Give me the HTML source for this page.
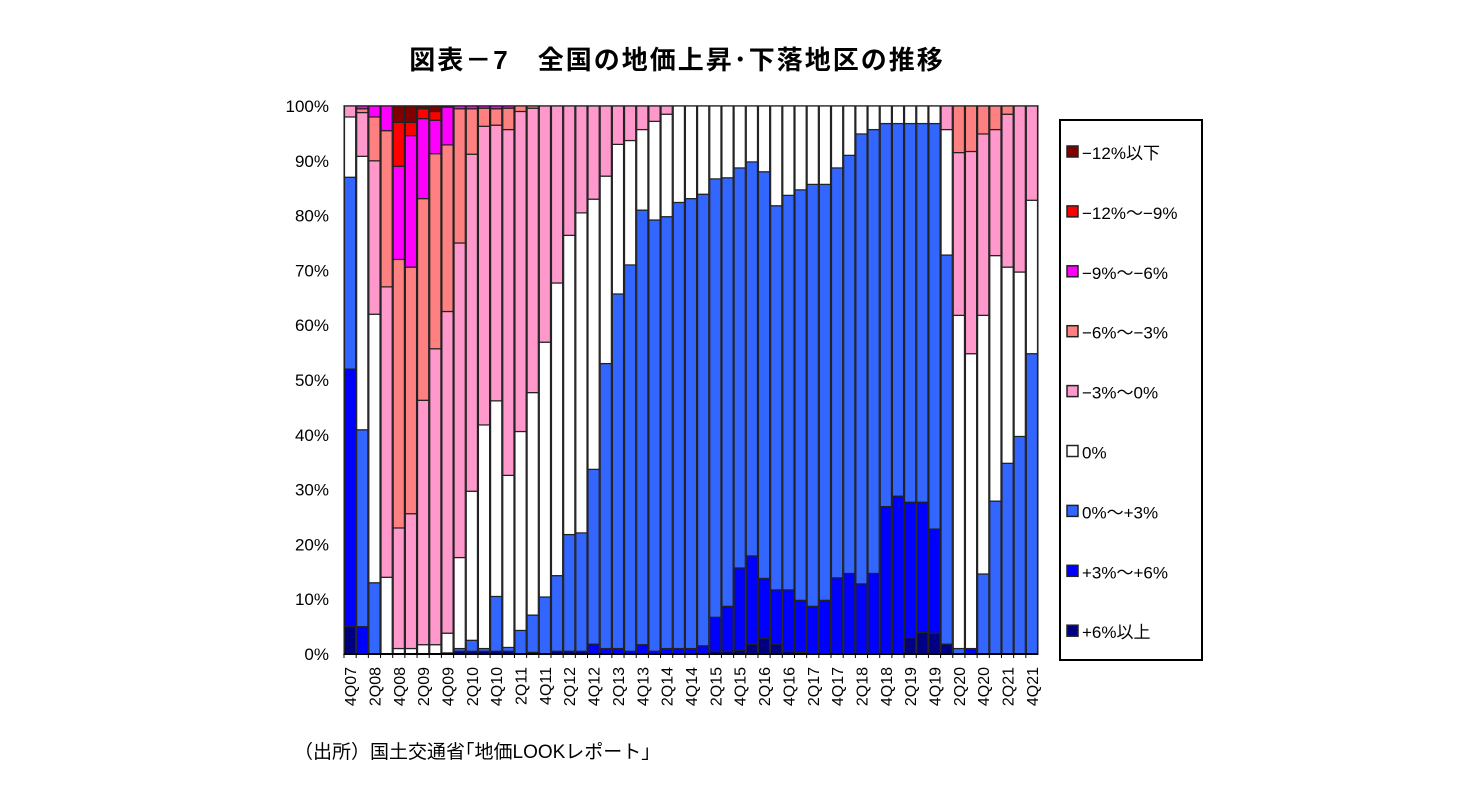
<!DOCTYPE html>
<html><head><meta charset="utf-8"><style>
body{margin:0;background:#fff;width:1480px;height:803px;overflow:hidden;font-family:"Liberation Sans","Noto Sans CJK JP",sans-serif;}
svg{display:block}
</style></head><body>
<svg id="chart" width="1480" height="803" xmlns="http://www.w3.org/2000/svg">
<text x="677" y="69" text-anchor="middle" font-size="26" font-weight="bold" letter-spacing="2" font-family="Liberation Sans, Noto Sans CJK JP, sans-serif">図表－7　全国の地価上昇･下落地区の推移</text>
<g id="plot"></g>
<g id="legend"></g>
<text x="294" y="758" font-size="19" font-family="Liberation Sans, Noto Sans CJK JP, sans-serif">（出所）国土交通省｢地価LOOKレポート｣</text>
</svg>
<script>
const quarters = ["4Q07","1Q08","2Q08","3Q08","4Q08","1Q09","2Q09","3Q09","4Q09","1Q10","2Q10","3Q10","4Q10","1Q11","2Q11","3Q11","4Q11","1Q12","2Q12","3Q12","4Q12","1Q13","2Q13","3Q13","4Q13","1Q14","2Q14","3Q14","4Q14","1Q15","2Q15","3Q15","4Q15","1Q16","2Q16","3Q16","4Q16","1Q17","2Q17","3Q17","4Q17","1Q18","2Q18","3Q18","4Q18","1Q19","2Q19","3Q19","4Q19","1Q20","2Q20","3Q20","4Q20","1Q21","2Q21","3Q21","4Q21"];
const seriesNames = ["+6%以上","+3%～+6%","0%～+3%","0%","-3%～0%","-6%～-3%","-9%～-6%","-12%～-9%","-12%以下"];
const seriesColors = ["#000080","#0000FF","#3366FF","#FFFFFF","#FF99CC","#FF8080","#FF00FF","#FF0000","#800000"];
const up6 = [5,0,0,0,0,0,0,0,.2,.5,.5,.5,.5,.5,0,.3,0,.5,.5,.5,0,0,0,0,0,0,0,0,0,0,.5,.5,.7,1.8,2.8,1.8,.5,.3,0,0,0,0,0,0,0,0,3,3.9,3.8,1.8,0,0,0,0,0,0,0];
const up3to6 = [47,5,0,0,0,0,0,0,0,0,0,0,0,0,0,0,0,0,0,0,1.8,1,1,.5,1.7,.5,1,1,1,1.5,6.2,8.2,15,16.1,11,9.9,11.2,9.5,8.7,9.8,13.9,14.7,12.8,14.7,26.9,28.8,24.7,23.8,19,0,0,1,0,0,0,0,0];
const up0to3 = [35,36,13,0,0,0,0,0,0,.5,2,.5,10,.7,4.3,6.8,10.4,13.8,21.3,21.6,31.9,52,64.7,70.5,79.3,78.7,78.8,81.4,82.1,82.4,80,78.2,73,71.9,74.2,70.1,72,74.9,77,75.9,74.8,76.3,82.1,81,69.9,68,69.1,69.1,74,71,1,0,14.6,27.9,34.8,39.7,54.8];
const flat = [11,50,49,14,1,1,1.7,1.7,3.6,16.6,27.2,40.8,35.7,31.4,36.3,40.6,46.5,53.4,54.6,58.4,49.3,34.2,27.3,22.7,14.7,18,18.7,17.6,16.9,16.1,13.3,13.1,11.3,10.2,12,18.2,16.3,15.3,14.3,14.3,11.3,9,5.1,4.3,3.2,3.2,3.2,3.2,3.2,22.9,60.8,53.8,47.2,44.8,35.8,30,28];
const dn0to3 = [2,8,28,53,22,24.6,44.6,54,58.7,57.4,61.5,54.5,50.3,63.1,58.4,51.9,43.1,32.3,23.6,19.5,17,12.8,7,6.3,4.3,2.8,1.5,0,0,0,0,0,0,0,0,0,0,0,0,0,0,0,0,0,0,0,0,0,0,4.3,29.7,36.9,33.1,23,27.9,30.3,17.2];
const dn3to6 = [0,.7,8,28.5,49,45,36.8,35.6,30.4,24.5,8.3,3.3,3,3.9,1,.4,0,0,0,0,0,0,0,0,0,0,0,0,0,0,0,0,0,0,0,0,0,0,0,0,0,0,0,0,0,0,0,0,0,0,8.5,8.3,5.1,4.3,1.5,0,0];
const dn6to9 = [0,.5,2,4.5,17,24,14.6,6.1,6.9,.5,.5,.4,.5,.4,0,0,0,0,0,0,0,0,0,0,0,0,0,0,0,0,0,0,0,0,0,0,0,0,0,0,0,0,0,0,0,0,0,0,0,0,0,0,0,0,0,0,0];
const dn9to12 = [0,0,0,0,8,2.4,1.8,1.6,.2,0,0,0,0,0,0,0,0,0,0,0,0,0,0,0,0,0,0,0,0,0,0,0,0,0,0,0,0,0,0,0,0,0,0,0,0,0,0,0,0,0,0,0,0,0,0,0,0];
const dn12 = [0,0,0,0,3,3,.5,1,0,0,0,0,0,0,0,0,0,0,0,0,0,0,0,0,0,0,0,0,0,0,0,0,0,0,0,0,0,0,0,0,0,0,0,0,0,0,0,0,0,0,0,0,0,0,0,0,0];
const yTicks = [0,10,20,30,40,50,60,70,80,90,100];

const NS="http://www.w3.org/2000/svg";
const X0=344,X1=1038,Y0=654,Y1=106;
const slot=(X1-X0)/quarters.length;
const xS=i=>X0+i*slot;
const yS=v=>Y0-(v/100)*(Y0-Y1);
const plot=document.getElementById('plot');
function mk(tag,attrs,parent){const e=document.createElementNS(NS,tag);for(const k in attrs)e.setAttribute(k,attrs[k]);parent.appendChild(e);return e;}
const all=[up6,up3to6,up0to3,flat,dn0to3,dn3to6,dn6to9,dn9to12,dn12];
const frame=mk('rect',{x:X0,y:Y1,width:X1-X0,height:Y0-Y1,fill:'#fff',stroke:'#999','stroke-width':2},plot);


yTicks.forEach(t=>{
  const tx=mk('text',{x:329,y:yS(t)+6,'text-anchor':'end','font-size':17},plot);
  tx.textContent=t+'%';
  
  
});
quarters.forEach((q,i)=>{
  let total=0; all.forEach(s=>total+=s[i]);
  let cum=0;
  all.forEach((s,k)=>{
    const v=s[i]/total*100;
    if(v<=0) return;
    const r=mk('rect',{x:xS(i)+0.5,y:yS(cum+v),width:slot-1,height:yS(cum)-yS(cum+v),fill:seriesColors[k],stroke:'#222','stroke-width':1.2},plot);
    
    
    cum+=v;
  });
  mk('line',{x1:xS(i),x2:xS(i),y1:Y0,y2:Y0+4,stroke:'#000','stroke-width':1},plot);
  if(i%2===0){
    const cx=xS(i)+slot/2+6;
    const tx=mk('text',{x:cx,y:667,'text-anchor':'end','font-size':16,transform:`rotate(-90 ${cx} 667)`},plot);
    tx.textContent=q;
    
    
  }
});
mk('line',{x1:X0,x2:X1,y1:Y0,y2:Y0,stroke:'#000','stroke-width':2},plot);
const lg=document.getElementById('legend');
const box=mk('rect',{x:1060,y:120,width:142,height:540,fill:'#fff',stroke:'#000','stroke-width':2},lg);


for(let k=8;k>=0;k--){
  const idx=8-k;
  const y=152+idx*59.9;
  const sq=mk('rect',{x:1067,y:y-6,width:11,height:11,fill:seriesColors[k],stroke:'#222','stroke-width':1.5},lg);
  
  
  const tx=mk('text',{x:1082,y:y+7,'font-size':17},lg);
  tx.textContent=seriesNames[k].replace(/-/g,'−');
  
  
}
</script>
</body></html>
